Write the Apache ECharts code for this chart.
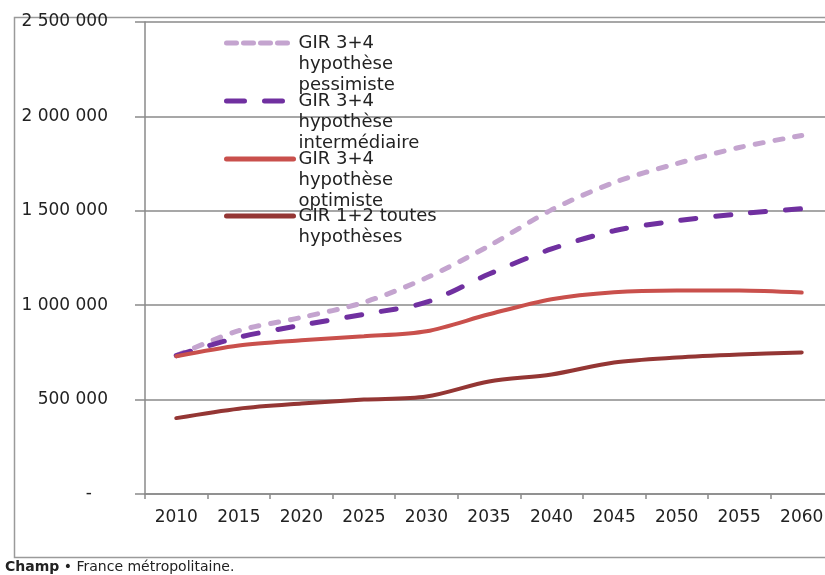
<!DOCTYPE html>
<html>
<head>
<meta charset="utf-8">
<script src="https://cdn.jsdelivr.net/npm/echarts@6/dist/echarts.min.js"></script>
<style>html,body{margin:0;padding:0;background:#fff}#c{width:825px;height:575px}</style>
</head>
<body>
<div id="c"></div>
<script>
const years = ['2010','2015','2020','2025','2030','2035','2040','2045','2050','2055','2060'];
const yTicks = [0, 500000, 1000000, 1500000, 2000000, 2500000];
const namePess = 'GIR 3+4\nhypothèse\npessimiste';
const nameInter = 'GIR 3+4\nhypothèse\nintermédiaire';
const nameOpt = 'GIR 3+4\nhypothèse\noptimiste';
const nameGir12 = 'GIR 1+2 toutes\nhypothèses';
const pessimiste    = [733000, 865000, 935000, 1015000, 1145000, 1314000, 1505000, 1650000, 1750000, 1835000, 1899000];
const intermediaire = [733000, 830000, 894000, 952000, 1016000, 1165000, 1298000, 1394000, 1447000, 1484000, 1511000];
const optimiste     = [730000, 787000, 814000, 835000, 862000, 952000, 1032000, 1069000, 1078000, 1078000, 1067000];
const gir12         = [402000, 452000, 479000, 500000, 516000, 596000, 633000, 697000, 723000, 739000, 750000];

const C = { pess:'#c4a4cf', inter:'#7030a0', opt:'#c9504c', g12:'#943634' };
const L = 21;
const fam = 'DejaVu Sans';
const txt = '#222';

function fmt(v){ return v === 0 ? '-   ' : String(v).replace(/\B(?=(\d{3})+(?!\d))/g, ' '); }

function mkLegend(name, centerY, lines, width, dash){
  const h = (2*lines - 1) * L;
  return {
    data: [name], left: 224, top: centerY - h/2, padding: 0, orient: 'vertical',
    itemWidth: 67, itemHeight: 14, selectedMode: false,
    formatter: function(n){ return '\n'.repeat(lines - 1) + n; },
    itemStyle: { opacity: 0 },
    lineStyle: { width: width, type: dash, cap: 'round' },
    textStyle: { fontFamily: fam, fontSize: 18, color: txt, lineHeight: L }
  };
}

const chart = echarts.init(document.getElementById('c'));
chart.setOption({
  animation: false,
  backgroundColor: '#fff',
  grid: { left: 145, right: -8, top: 22, bottom: 81, containLabel: false, outerBoundsMode: 'none' },
  legend: [
    mkLegend(namePess, 43, 3, 5, [10, 7]),
    mkLegend(nameInter, 101, 3, 5, [18, 20]),
    mkLegend(nameOpt, 159, 3, 5, 'solid'),
    mkLegend(nameGir12, 216, 2, 5, 'solid')
  ],
  graphic: [
    { type: 'rect', left: 12, top: 15, shape: { width: 900, height: 540 }, style: { fill: 'none', stroke: '#9a9a9a', lineWidth: 1.5 }, silent: true },
    { type: 'text', left: 5, top: 560, style: { text: '{b|Champ} • France métropolitaine.', rich: { b: { fontWeight: 'bold', fontFamily: fam, fontSize: 14, fill: txt } }, font: '14px "DejaVu Sans"', fill: txt } }
  ],
  xAxis: {
    type: 'category', data: years, boundaryGap: true,
    axisLine: { lineStyle: { color: '#8a8a8a', width: 1.5 } },
    axisTick: { show: true, length: 5, lineStyle: { color: '#8a8a8a', width: 1.5 } },
    axisLabel: { margin: 15, fontFamily: fam, fontSize: 17, color: txt, interval: 0 },
    splitLine: { show: false }
  },
  yAxis: {
    type: 'value', min: 0, max: 2500000, interval: 500000,
    axisLine: { show: true, lineStyle: { color: '#8a8a8a', width: 1.5 } },
    axisTick: { show: true, length: 10, lineStyle: { color: '#8a8a8a', width: 1.5 } },
    axisLabel: { margin: 37, fontFamily: fam, fontSize: 17, color: txt, formatter: fmt, customValues: yTicks },
    splitLine: { show: true, lineStyle: { color: '#8a8a8a', width: 1.5 } }
  },
  series: [
    { name: namePess, type: 'line', data: pessimiste, smooth: 0.3, symbol: 'none', lineStyle: { color: C.pess, width: 5, type: [8, 12], cap: 'round' }, itemStyle: { color: C.pess } },
    { name: nameInter, type: 'line', data: intermediaire, smooth: 0.3, symbol: 'none', lineStyle: { color: C.inter, width: 5, type: [15, 20], cap: 'round' }, itemStyle: { color: C.inter } },
    { name: nameOpt, type: 'line', data: optimiste, smooth: 0.3, symbol: 'none', lineStyle: { color: C.opt, width: 4, cap: 'round' }, itemStyle: { color: C.opt } },
    { name: nameGir12, type: 'line', data: gir12, smooth: 0.3, symbol: 'none', lineStyle: { color: C.g12, width: 4, cap: 'round' }, itemStyle: { color: C.g12 } }
  ]
});
</script>
</body>
</html>
